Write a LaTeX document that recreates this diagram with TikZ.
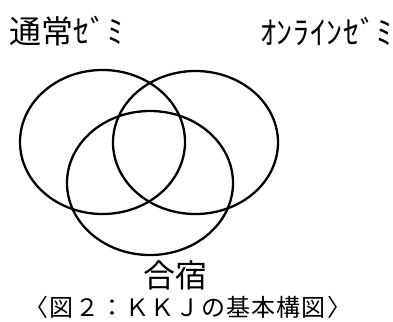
\documentclass[tikz,border=0pt]{standalone}
\usepackage{fontspec}
\newfontfamily\jp{Noto Sans CJK JP}
\begin{document}
\begin{tikzpicture}[x=1pt,y=-1pt,
  venn/.style={line width=2.3pt},
  lbl/.style={inner sep=0pt,font=\jp\fontsize{32}{34}\selectfont},
  captxt/.style={inner sep=0pt,font=\jp\fontsize{24}{26}\selectfont}]
\useasboundingbox (0,0) rectangle (393,321);
\draw[venn] (102.5,142) ellipse [x radius=82.5, y radius=72];
\draw[venn] (195.5,142.5) ellipse [x radius=82.5, y radius=71.5];
\draw[venn] (150,183) ellipse [x radius=83, y radius=72];
\node[lbl,anchor=west] (a) at (9,31) {通常{\addfontfeature{LetterSpace=3}ｾﾞﾐ}};
\node[lbl,anchor=east] (b) at (393,32) {\addfontfeature{LetterSpace=2}ｵﾝﾗｲﾝｾﾞﾐ};
\node[lbl,font=\jp\fontsize{32}{34}\selectfont] (c) at (175,275) {合宿};
\node[captxt] (d) at (188,307) {\addfontfeature{LetterSpace=5}〈図２：ＫＫＪの基本構図〉};
\end{tikzpicture}
\end{document}
